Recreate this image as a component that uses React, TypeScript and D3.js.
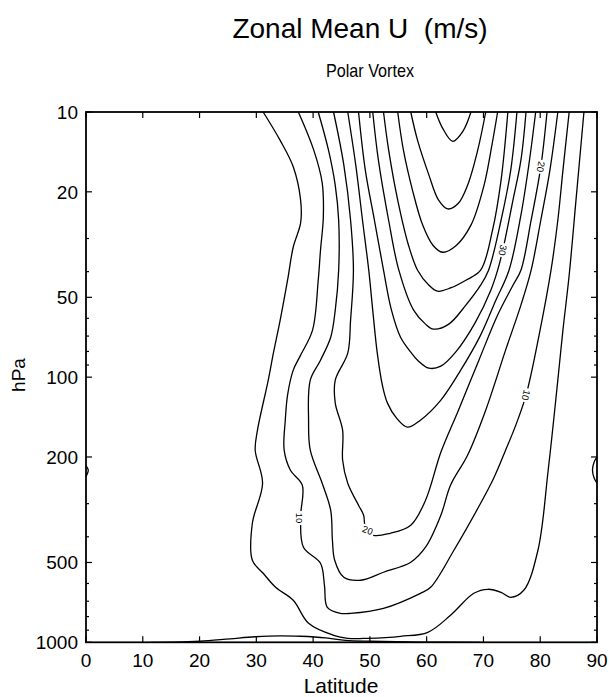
import React from 'react';
import * as d3 from 'd3';

// ---- axis data ----
const latTicks = [0, 10, 20, 30, 40, 50, 60, 70, 80, 90];
const pMajorTicks = [10, 20, 50, 100, 200, 500, 1000];
const pMinorTicks = [30, 40, 60, 70, 80, 90, 300, 400, 600, 700, 800, 900];

// ---- contour lines: [latitude, hPa] ----
const contour0: [number, number][] = [
  [11.3, 1000], [15.7, 999], [20.1, 991], [25.4, 970], [29.8, 953], [34.2, 945],
  [37.8, 949], [42.2, 962], [45.7, 983], [50.1, 991], [58.9, 998], [69.5, 1000],
];
const contour5: [number, number][] = [
  [31.2, 10], [34.2, 12.8], [36.5, 16.1], [37.8, 21.5], [37.8, 26.2], [36.5, 32.3],
  [35.5, 43.1], [34.2, 60.9], [33.0, 81.2], [32.1, 102.6], [30.2, 158.5], [29.8, 188.6],
  [31.1, 251.2], [29.3, 355.6], [29.3, 490.5], [31.2, 549.1], [33.4, 620.2], [36.5, 694.3],
  [39.2, 847.8], [43.6, 940.9], [46.1, 965.8], [49.6, 965.8], [55.4, 949.1], [60.2, 916.8],
  [64.2, 791], [68.3, 653.4], [70.8, 631], [73.1, 647.7], [74.8, 676.5], [77.1, 636.6],
  [79.6, 449.6], [81.4, 224.4], [83.1, 102.6], [84.0, 66.5], [85.1, 41.2], [86.3, 21.5],
  [87.7, 10],
];
const contour10: [number, number][] = [
  [37.4, 10], [40.1, 13.9], [41.6, 18.5], [41.8, 24.9], [41.3, 33.2], [40.9, 43.1],
  [39.9, 66.5], [37.8, 82.6], [36.5, 94.1], [35.5, 116.9], [35.1, 145.3], [34.9, 188.6],
  [36.0, 224.4], [38.1, 255.6], [37.8, 337.5], [38.3, 438], [41.3, 503.4], [42.0, 609.5],
  [42.5, 737.9], [44.8, 777.4], [46.6, 777.4], [52.4, 744.3], [58.9, 653.4], [60.7, 620.2],
  [64.8, 449.6], [69.5, 299], [71.8, 240.5], [73.9, 188.6], [75.7, 151.7], [77.5, 116.9],
  [79.8, 69.4], [81.9, 39.5], [83.1, 25.6], [84.0, 16.6], [85.1, 10],
];
const contour15: [number, number][] = [
  [40.9, 10], [42.7, 13.9], [43.9, 18.9], [44.5, 25.6], [44.5, 39.5], [43.9, 55.9],
  [43.1, 70.7], [41.3, 86.3], [39.5, 102.6], [39.2, 145.3], [39.5, 188.6], [41.6, 251.2],
  [43.1, 317.7], [43.4, 412.3], [43.8, 490.5], [45.4, 568.5], [48.4, 583.4], [52.4, 544.3],
  [57.2, 499], [59.8, 438], [62.5, 331.7], [64.2, 255.6], [67.2, 197], [70.4, 133.2],
  [73.9, 79.1], [76.6, 53.5], [78.4, 39.5], [80.1, 25.6], [81.7, 16.6], [83.1, 10],
];
const contour20: [number, number][] = [
  [43.6, 10], [45.4, 15.8], [46.6, 25.6], [47.1, 39.5], [46.6, 60.9], [46.1, 81.2],
  [43.9, 102.6], [43.9, 125.3], [45.2, 158.5], [45.2, 205.7], [46.1, 251.2], [48.0, 304.1],
  [48.9, 331.7], [49.2, 368.1], [50.6, 394.8], [53.6, 388], [57.2, 361.8], [59.8, 291.2],
  [62.5, 191.9], [65.6, 133.2], [69.2, 86.3], [72.5, 58.3], [75.2, 45.0], [76.6, 39.5],
  [78.4, 25.6], [80.1, 16.1], [81.2, 10],
];
const contour25: [number, number][] = [
  [46.1, 10], [47.5, 15.8], [48.7, 25.6], [49.8, 39.5], [50.5, 55.9], [51.3, 81.2],
  [52.2, 107.2], [53.1, 125.3], [54.7, 142.8], [56.6, 154.4], [58.9, 145.3], [62.5, 122.1],
  [66.0, 94.1], [69.5, 69.4], [72.2, 51.2], [74.5, 39.5], [76.6, 24.5], [78.0, 15.8],
  [79.2, 10],
];
const contour30: [number, number][] = [
  [48.0, 10], [49.2, 16.6], [50.8, 25.6], [52.4, 39.5], [53.8, 55.9], [55.4, 70.7],
  [57.2, 80.5], [58.4, 86.3], [60.4, 92.5], [62.5, 90.9], [65.1, 80.5], [68.6, 62.0],
  [71.3, 47.0], [72.5, 39.5], [73.4, 33.2], [75.2, 21.5], [76.6, 15.2], [77.5, 10],
];
const contour35: [number, number][] = [
  [50.5, 10], [51.5, 15.2], [53.3, 25.6], [55.1, 39.5], [57.7, 55.9], [59.8, 63.1],
  [61.2, 65.9], [63.9, 63.1], [66.9, 53.5], [69.5, 45.0], [70.9, 39.5], [73.1, 25.6],
  [74.8, 16.6], [75.9, 10],
];
const contour40: [number, number][] = [
  [52.4, 10], [53.3, 13.9], [54.9, 21.5], [56.8, 31.8], [58.4, 39.5], [60.4, 45.0],
  [61.9, 47.4], [64.2, 46.1], [66.9, 43.1], [69.5, 39.5], [71.6, 27.9], [73.1, 18.1],
  [74.3, 10],
];
const contour45: [number, number][] = [
  [54.9, 10], [55.9, 13.9], [57.5, 19.7], [59.3, 26.7], [61.1, 31.8], [62.8, 33.8],
  [65.1, 32.0], [67.8, 26.7], [70.1, 18.9], [71.5, 13.3], [72.5, 10],
];
const contour50: [number, number][] = [
  [57.2, 10], [58.4, 12.8], [60.4, 17.3], [62.1, 21.5], [63.7, 23.2], [65.5, 22.2],
  [67.2, 18.9], [69.0, 13.9], [70.4, 10],
];
const contour55: [number, number][] = [
  [61.6, 10], [62.8, 11.5], [64.6, 12.9], [66.4, 11.8], [67.8, 10],
];
const edgeLoopLeft: [number, number][] = [[0, 216], [0.4, 224], [0, 237]];
const edgeLoopRight: [number, number][] = [[90, 200], [89.5, 209], [89.2, 224], [89.5, 240], [90, 251]];

const contourLines = [
  contour0, contour5, contour10, contour15, contour20, contour25, contour30,
  contour35, contour40, contour45, contour50, contour55, edgeLoopLeft, edgeLoopRight,
];

// contour labels: text, latitude, hPa, rotation (deg)
const labelTexts = ['10', '20', '30', '20', '10'];
const labelLats = [37.6, 49.6, 73.4, 80.1, 77.5];
const labelPs = [340, 378, 33.2, 16.1, 116.9];
const labelAngles = [90, 20, 102, 100, 104];

const W = 609;
const H = 697;

export default function App() {
  const x = d3.scaleLinear().domain([0, 90]).range([86, 597]);
  const y = d3.scaleLog().domain([10, 1000]).range([112, 642.3]);
  const line = d3
    .line<[number, number]>()
    .x((d) => x(d[0]))
    .y((d) => y(d[1]))
    .curve(d3.curveCatmullRom.alpha(0.5));

  const font = '"Liberation Sans", Arial, Helvetica, sans-serif';
  const [x0, x1] = x.range();
  const [y0, y1] = y.range();

  return (
    <svg
      width={W}
      height={H}
      viewBox={`0 0 ${W} ${H}`}
      style={{ position: 'absolute', left: 0, top: 0, background: '#fff' }}
    >
      <rect x={0} y={0} width={W} height={H} fill="#fff" />
      <text x={360} y={38} textAnchor="middle" fontFamily={font} fontSize={28} style={{ whiteSpace: 'pre' }}>
        {'Zonal Mean U  (m/s)'}
      </text>
      <text
        x={370}
        y={77}
        textAnchor="middle"
        fontFamily={font}
        fontSize={19}
        textLength={88}
        lengthAdjust="spacingAndGlyphs"
      >
        Polar Vortex
      </text>

      <g fill="none" stroke="#000" strokeWidth={1.3} strokeLinejoin="round">
        {contourLines.map((c, i) => (
          <path key={i} d={line(c) || ''} />
        ))}
      </g>

      {labelTexts.map((t, i) => {
        const lx = x(labelLats[i]);
        const ly = y(labelPs[i]);
        return (
          <g key={i} transform={`translate(${lx},${ly}) rotate(${labelAngles[i]})`}>
            <rect x={-7} y={-5} width={14} height={10} fill="#fff" />
            <text x={0} y={3.3} textAnchor="middle" fontFamily={font} fontSize={9.5}>
              {t}
            </text>
          </g>
        );
      })}

      {/* frame */}
      <rect x={x0} y={y0} width={x1 - x0} height={y1 - y0} fill="none" stroke="#000" strokeWidth={1.8} />

      <g stroke="#000" strokeWidth={1.2}>
        {latTicks.map((t) => (
          <g key={'lt' + t}>
            <line x1={x(t)} x2={x(t)} y1={y1} y2={y1 - 6} />
            <line x1={x(t)} x2={x(t)} y1={y0} y2={y0 + 6} />
          </g>
        ))}
        {pMajorTicks.map((p) => (
          <g key={'pm' + p}>
            <line x1={x0} x2={x0 + 6} y1={y(p)} y2={y(p)} />
            <line x1={x1} x2={x1 - 6} y1={y(p)} y2={y(p)} />
          </g>
        ))}
        {pMinorTicks.map((p) => (
          <g key={'pn' + p}>
            <line x1={x0} x2={x0 + 3} y1={y(p)} y2={y(p)} />
            <line x1={x1} x2={x1 - 3} y1={y(p)} y2={y(p)} />
          </g>
        ))}
      </g>

      <g fontFamily={font} fontSize={19} fill="#000">
        {latTicks.map((t) => (
          <text key={'ll' + t} x={x(t)} y={667} textAnchor="middle">
            {t}
          </text>
        ))}
        {pMajorTicks.map((p) => (
          <text key={'pl' + p} x={78} y={y(p) + 7} textAnchor="end">
            {p}
          </text>
        ))}
      </g>

      <text x={341} y={693} textAnchor="middle" fontFamily={font} fontSize={21}>
        Latitude
      </text>
      <text
        transform={`translate(25,375) rotate(-90)`}
        textAnchor="middle"
        fontFamily={font}
        fontSize={19}
      >
        hPa
      </text>
    </svg>
  );
}
